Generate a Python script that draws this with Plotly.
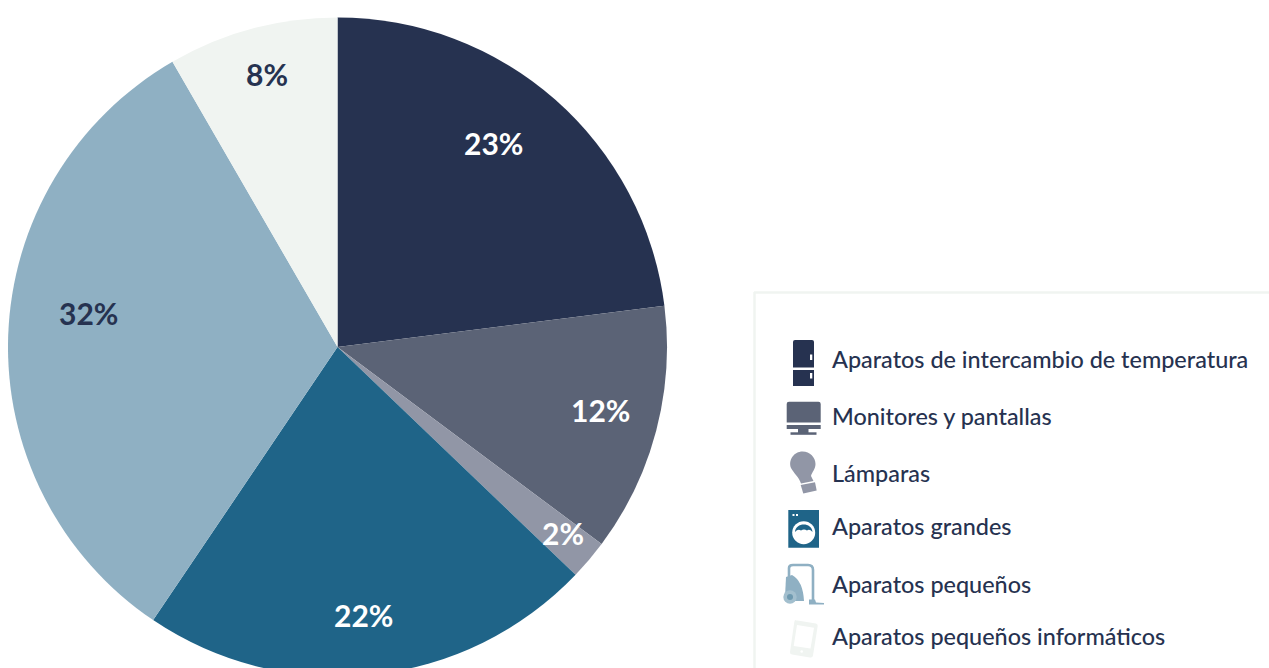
import plotly.graph_objects as go

categories = ["Aparatos de intercambio de temperatura", "Monitores y pantallas", "Lámparas",
              "Aparatos grandes", "Aparatos pequeños", "Aparatos pequeños informáticos"]
values = [23.0, 12.2, 1.95, 22.3, 32.2, 8.35]
value_labels = ["23%", "12%", "2%", "22%", "32%", "8%"]
colors = ["#263250", "#5b6376", "#9196a6", "#1f6488", "#8fb0c3", "#f0f4f1"]
label_colors = ["#ffffff", "#ffffff", "#ffffff", "#ffffff", "#263250", "#263250"]
label_px = [(493, 143), (600, 410), (563, 533), (363, 615), (88, 313), (267, 74)]
legend_y = [359, 416, 473, 526, 584, 636]

W, H = 1269, 700
CX, CY, R = 337.5, 347, 329.5
FONT = "Lato"
INK = "#263250"

fig = go.Figure()
fig.add_trace(go.Pie(values=values, marker=dict(colors=colors, line=dict(width=0)), sort=False,
                     direction="clockwise", rotation=0, textinfo="none", hoverinfo="skip",
                     showlegend=False,
                     domain=dict(x=[(CX - R) / W, (CX + R) / W], y=[1 - (CY + R) / H, 1 - (CY - R) / H])))
fig.add_trace(go.Scatter(x=[], y=[], hoverinfo="skip", showlegend=False))

shapes = []
def path(d, fill, line=None, lw=0):
    shapes.append(dict(type="path", path=d, xref="x", yref="y", fillcolor=fill, layer="above",
                       line=dict(color=line or fill, width=lw)))
def rect(x0, y0, x1, y1, fill):
    path(f"M{x0},{y0}L{x1},{y0}L{x1},{y1}L{x0},{y1}Z", fill)
def circle(cx, cy, r, fill):
    shapes.append(dict(type="circle", xref="x", yref="y", x0=cx - r, x1=cx + r, y0=cy - r, y1=cy + r,
                       fillcolor=fill, layer="above", line=dict(width=0)))

# legend frame
shapes.append(dict(type="line", xref="x", yref="y", x0=754.5, x1=754.5, y0=292, y1=700,
                   line=dict(color="#f0f4f1", width=2.5), layer="above"))
shapes.append(dict(type="line", xref="x", yref="y", x0=754, x1=1269, y0=292.5, y1=292.5,
                   line=dict(color="#f0f4f1", width=2.5), layer="above"))

# fridge
path("M795,340L812,340Q814,340 814,342L814,367.5L793,367.5L793,342Q793,340 795,340Z", colors[0])
rect(793, 370, 814, 386, colors[0])
rect(810, 354.5, 812.3, 360, "#ffffff")
rect(810, 373, 812.3, 378.5, "#ffffff")
# monitor
path("M789,401.7L818.5,401.7Q820.7,401.7 820.7,404L820.7,422.5L786.7,422.5L786.7,404Q786.7,401.7 789,401.7Z", colors[1])
rect(786.7, 425, 820.7, 429, colors[1])
rect(798, 429, 808.5, 433, colors[1])
rect(790.5, 432.3, 816.5, 434.8, colors[1])
# bulb
path("M802.5,451.5C810,451.5 815.5,457.5 815.5,464C815.5,469 812,472 811,476L813.5,481L801,483.5"
     "C799,477 793.5,473 791,468C788,460 794,451.5 802.5,451.5Z", colors[2])
path("M800.7,485L815,482.3L816.7,490.5L803.3,493.5Z", colors[2])
# washer
rect(788.3, 510, 819, 547.7, colors[3])
rect(792.5, 514, 794.5, 516, "#ffffff")
rect(796, 514, 798, 516, "#ffffff")
circle(803.7, 532.7, 11.5, "#ffffff")
path("M795,532C795.5,522 812,522 812.5,532Q809.5,528.5 807,530.5Q804,528.5 801,530.5Q798,528.5 795,532Z", colors[3])
# vacuum
vac = colors[4]
path("M789,577L789,568Q789,565 793,565L808,565Q813,565 813,570L813,602", "rgba(0,0,0,0)", vac, 2.6)
path("M786,577L792,575Q803,581 804,601L790,601L785,597Z", vac)
circle(790, 597, 6.7, "#a3bfce")
circle(790, 597, 3, "#6f9ab0")
path("M809,599.5L815,599.5L816,602.5L824,603L824,604.5L809,604.5Z", vac)
# tablet
path("M794.3,620L816,623.5Q818,624 817.7,626L813,655.5Q812.7,658 810,657.5L792,654.5Q789.7,654 790,652L794.3,622Q794.5,620 796,620Z", colors[5])
path("M797,625L814,627.7L810.5,648.5L793.7,646Z", "#ffffff")
circle(801.7, 651.5, 1.3, "#ffffff")

annotations = []
for t, c, (x, y) in zip(value_labels, label_colors, label_px):
    annotations.append(dict(text=f"<b>{t}</b>", x=x, y=y, xref="x", yref="y", showarrow=False,
                            xanchor="center", yanchor="middle",
                            font=dict(family=FONT, size=30, color=c)))
for t, y in zip(categories, legend_y):
    annotations.append(dict(text=t, x=830, y=y, xref="x", yref="y", showarrow=False,
                            xanchor="left", yanchor="middle",
                            font=dict(family=FONT, size=23.4, color=INK, weight=500)))

fig.update_layout(width=W, height=H, margin=dict(l=0, r=0, t=0, b=0),
                  paper_bgcolor="#ffffff", plot_bgcolor="rgba(0,0,0,0)",
                  xaxis=dict(range=[0, W], visible=False, domain=[0, 1], fixedrange=True),
                  yaxis=dict(range=[H, 0], visible=False, domain=[0, 1], fixedrange=True),
                  shapes=shapes, annotations=annotations)

fig.write_html("out.html", config=dict(displayModeBar=False),
               post_script="document.documentElement.style.overflow='hidden';document.body.style.margin='0';document.body.style.overflow='hidden';")
